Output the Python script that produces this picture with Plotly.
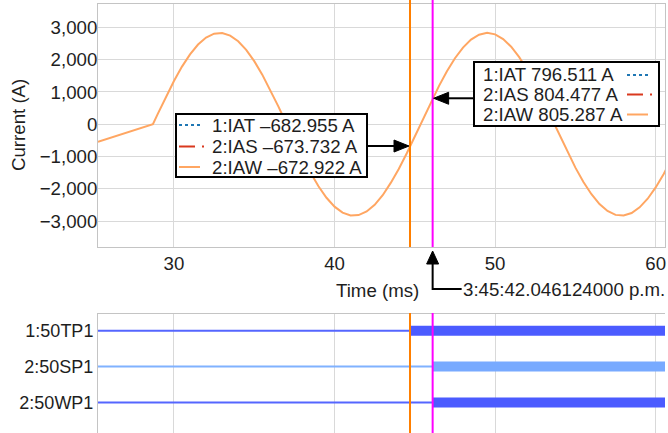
import plotly.graph_objects as go

# ---------------- data ----------------
time_ms = [25.27, 26.0, 27.0, 28.0, 28.69, 29.0, 29.5, 30.0, 30.5, 31.0, 31.5, 32.0, 32.5,
           33.0, 33.5, 34.0, 34.5, 35.0, 35.5, 36.0, 36.5, 37.0, 37.5, 38.0, 38.5, 39.0,
           39.5, 40.0, 40.5, 41.0, 41.5, 42.0, 42.5, 43.0, 43.5, 44.0, 44.5, 45.0, 45.5,
           46.0, 46.5, 47.0, 47.5, 48.0, 48.5, 49.0, 49.5, 50.0, 50.5, 51.0, 51.5, 52.0,
           52.5, 53.0, 53.5, 54.0, 54.5, 55.0, 55.5, 56.0, 56.5, 57.0, 57.5, 58.0, 58.5,
           59.0, 59.5, 60.0, 60.5, 61.0]
iaw_amps = [-545, -430, -280, -115, 0, 330, 851, 1341, 1785, 2165, 2468, 2684, 2805,
            2826, 2747, 2571, 2304, 1955, 1537, 1065, 555, 25, -506, -1019, -1495, -1919,
            -2275, -2550, -2735, -2823, -2811, -2699, -2492, -2196, -1815, -1385, -898, -379, 148,
            680, 1183, 1643, 2046, 2376, 2622, 2775, 2830, 2784, 2640, 2403, 2080, 1683,
            1227, 728, 202, -330, -851, -1342, -1785, -2165, -2468, -2684, -2805, -2826, -2747,
            -2571, -2304, -1955, -1537, -1065]

analog_names = ["1:IAT", "2:IAS", "2:IAW"]
cursor_times = [44.70, 46.11]
cursor1_values = [-682.955, -673.732, -672.922]
cursor2_values = [796.511, 804.477, 805.287]
cursor2_clock = "3:45:42.046124000 p.m."

digital_names = ["1:50TP1", "2:50SP1", "2:50WP1"]
digital_rows = [3, 2, 1]
digital_assert_ms = [44.70, 46.11, 46.11]

x_range = [25.27, 60.58]
y_ticks = [-3000, -2000, -1000, 0, 1000, 2000, 3000]
x_ticks = [30, 40, 50, 60]

# ---------------- styles ----------------
FONT = "Liberation Sans, Arial, sans-serif"
TXT = "#1e1e1e"
GRID = "#d9d9d9"
AXL = "#c4c4c4"
C_IAT = "#1f77b4"
C_IAS = "#d9381e"
C_IAW = "#ffa662"
C_CUR1 = "#ff7f00"
C_CUR2 = "#ff00ff"
dig_on_colors = ["#4b5bff", "#78aaff", "#4b5bff"]
dig_off_colors = ["#5566ff", "#80b2ff", "#5566ff"]
series_colors = [C_IAT, C_IAS, C_IAW]
series_dash = ["dot", "16px,7px,2px,12px", "solid"]
series_len = [21, 26, 21]
FS = 18.67  # 14pt

W, H = 668, 433
ML, MR, MT, MB = 98, 3, 4, 0
PW, PH = W - ML - MR, H - MT - MB


def PX(px):
    return (px - ML) / PW


def PY(py):
    return (H - MB - py) / PH


fig = go.Figure()

fig.add_trace(go.Scatter(x=time_ms, y=iaw_amps, mode="lines", name="2:IAW",
                         line=dict(color=C_IAW, width=2), xaxis="x", yaxis="y",
                         showlegend=False, hoverinfo="skip"))

x_end = max(time_ms)
x_start = min(time_ms)
for name, row, t_on, con, coff in zip(digital_names, digital_rows, digital_assert_ms,
                                      dig_on_colors, dig_off_colors):
    fig.add_trace(go.Scatter(x=[x_start, t_on], y=[row, row], mode="lines",
                             line=dict(color=coff, width=2), xaxis="x2", yaxis="y2",
                             showlegend=False, hoverinfo="skip"))
    fig.add_trace(go.Scatter(x=[t_on, x_end], y=[row, row], mode="lines",
                             line=dict(color=con, width=10), xaxis="x2", yaxis="y2",
                             showlegend=False, hoverinfo="skip"))

shapes = []
annotations = []

# cursors
for t, col in zip(cursor_times, [C_CUR1, C_CUR2]):
    shapes.append(dict(type="line", xref="x", yref="paper", x0=t, x1=t, y0=PY(247), y1=PY(0),
                       line=dict(color=col, width=2), layer="above"))
    shapes.append(dict(type="line", xref="x", yref="paper", x0=t, x1=t, y0=PY(433), y1=PY(313),
                       line=dict(color=col, width=2), layer="above"))

# value boxes
boxes = [
    dict(x0=176, x1=367, y0=114, y1=177, rows=[125, 146.5, 167], text_x=209.5,
         sample=179, values=cursor1_values),
    dict(x0=474, x1=659, y0=62, y1=126, rows=[75, 94.5, 114.5], text_x=481,
         sample=627, values=cursor2_values),
]
for b in boxes:
    shapes.append(dict(type="rect", xref="paper", yref="paper", x0=PX(b["x0"]), x1=PX(b["x1"]),
                       y0=PY(b["y1"]), y1=PY(b["y0"]), line=dict(color="black", width=2),
                       fillcolor="white", layer="above"))
    for name, val, ry, col, dash, ln in zip(analog_names, b["values"], b["rows"], series_colors,
                                            series_dash, series_len):
        shapes.append(dict(type="line", xref="paper", yref="paper", x0=PX(b["sample"]),
                           x1=PX(b["sample"] + ln), y0=PY(ry), y1=PY(ry),
                           line=dict(color=col, width=2, dash=dash), layer="above"))
        vtxt = ("\u2013" if val < 0 else "") + f"{abs(val):.3f}"
        annotations.append(dict(xref="paper", yref="paper", x=PX(b["text_x"]), y=PY(ry),
                                xanchor="left", yanchor="middle", showarrow=False,
                                text=f"{name} {vtxt} A",
                                font=dict(family=FONT, size=FS, color=TXT)))

# arrows from boxes to cursor points
arrow_specs = [(cursor_times[0], cursor1_values[2], -1), (cursor_times[1], cursor2_values[2], 1)]
arrow_len = [42, 41]
for (t, v, sgn), L in zip(arrow_specs, arrow_len):
    shapes.append(dict(type="path", xref="x", yref="y", xsizemode="pixel", ysizemode="pixel",
                       xanchor=t, yanchor=v,
                       path=f"M{sgn*L},0 L{sgn*14},0",
                       line=dict(color="black", width=2), layer="above"))
    shapes.append(dict(type="path", xref="x", yref="y", xsizemode="pixel", ysizemode="pixel",
                       xanchor=t, yanchor=v,
                       path=f"M{sgn*1},0 L{sgn*16},6 L{sgn*16},-6 Z",
                       line=dict(color="black", width=1), fillcolor="black", layer="above"))

# time marker below axis
shapes.append(dict(type="path", xref="x", yref="paper", xsizemode="pixel", ysizemode="pixel",
                   xanchor=cursor_times[1], yanchor=PY(251),
                   path="M0,0 L-6,-13 L6,-13 Z", line=dict(color="black", width=1),
                   fillcolor="black", layer="above"))
shapes.append(dict(type="path", xref="x", yref="paper", xsizemode="pixel", ysizemode="pixel",
                   xanchor=cursor_times[1], yanchor=PY(251),
                   path="M0,-12 L0,-38 L29,-38", line=dict(color="black", width=2), layer="above"))
annotations.append(dict(xref="x", yref="paper", x=cursor_times[1], xshift=28, y=PY(289),
                        xanchor="left", yanchor="middle", showarrow=False, text=cursor2_clock,
                        font=dict(family=FONT, size=FS, color=TXT)))

# axis titles
annotations.append(dict(xref="paper", yref="paper", x=PX(377), y=PY(290), xanchor="center",
                        yanchor="middle", showarrow=False, text="Time (ms)",
                        font=dict(family=FONT, size=FS, color=TXT)))
annotations.append(dict(xref="paper", yref="paper", x=PX(18), y=PY(125), xanchor="center",
                        yanchor="middle", showarrow=False, text="Current (A)", textangle=-90,
                        font=dict(family=FONT, size=FS, color=TXT)))

fig.update_layout(
    width=W, height=H, margin=dict(l=ML, r=MR, t=MT, b=MB),
    paper_bgcolor="white", plot_bgcolor="white",
    font=dict(family=FONT, size=18, color=TXT),
    separators=".,",
    xaxis=dict(domain=[0, 1], anchor="y", range=x_range, tickvals=x_ticks, ticks="",
               showgrid=True, gridcolor=GRID, gridwidth=1, zeroline=False,
               showline=True, linecolor=AXL, linewidth=1, mirror=True,
               tickfont=dict(family=FONT, size=FS, color=TXT)),
    yaxis=dict(domain=[PY(247), 1], anchor="x", range=[-3799, 3724], tickvals=y_ticks,
               tickformat=",d", ticks="", showgrid=True, gridcolor=GRID, gridwidth=1,
               zeroline=False, showline=True, linecolor=AXL, linewidth=1, mirror=True,
               ticklabelstandoff=-4,
               tickfont=dict(family=FONT, size=FS, color=TXT)),
    xaxis2=dict(domain=[0, 1], anchor="y2", matches="x", range=x_range, tickvals=x_ticks,
                showticklabels=False, ticks="", side="top", showgrid=True, gridcolor=GRID,
                zeroline=False, showline=True, linecolor=AXL, linewidth=1),
    yaxis2=dict(domain=[0, PY(314)], anchor="x2", range=[0.147, 3.464], tickvals=digital_rows,
                ticktext=digital_names, ticks="", showgrid=False, zeroline=False,
                showline=True, linecolor=AXL, linewidth=1,
                tickfont=dict(family=FONT, size=18, color=TXT)),
    shapes=shapes,
    annotations=annotations,
    showlegend=False,
)

fig.write_html("out.html")
